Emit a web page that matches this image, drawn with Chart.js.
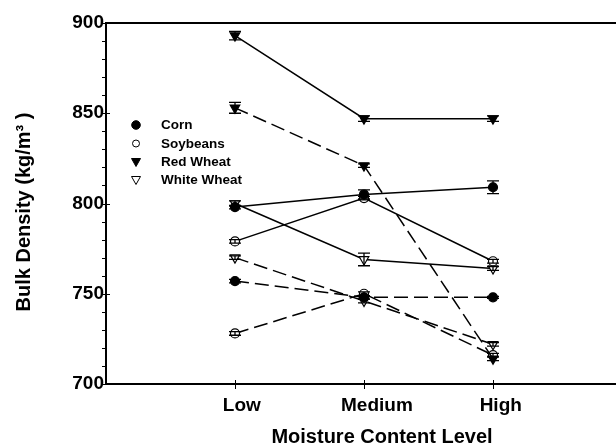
<!DOCTYPE html>
<html>
<head>
<meta charset="utf-8">
<script src="https://cdn.jsdelivr.net/npm/chart.js@4"></script>
<style>
  html, body { margin: 0; padding: 0; overflow: hidden; background: #fff; }
  #wrap { width: 630px; height: 444px; }
</style>
</head>
<body>
<div id="wrap"><canvas id="myChart" width="630" height="444"></canvas></div>
<script>
// moisture levels on the x axis (1, 2, 3)
var levels = ['Low', 'Medium', 'High'];
var levelLabelPos = [1.053, 2.1, 3.06];
var crops = ['Corn', 'Soybeans', 'Red Wheat', 'White Wheat'];

// solid lines
var cornSolid = [798, 805, 809];
var soySolid = [779, 803, 768];
var redSolid = [893, 847, 847];
var whiteSolid = [800, 769, 764];
// dashed lines
var cornDash = [757, 748, 748];
var soyDash = [728, 750, 716];
var redDash = [853, 821, 714];
var whiteDash = [770, 746, 722];

// error bar half widths
var cornSolidErr = [1, 2.5, 3.5];
var soySolidErr = [1, 1, 1];
var redSolidErr = [2.3, 1.5, 1.5];
var whiteSolidErr = [1.5, 3.5, 1];
var cornDashErr = [1, 1, 0.5];
var soyDashErr = [1, 1, 1];
var redDashErr = [3, 1, 1];
var whiteDashErr = [1, 1, 1];

var yTicks = [700, 750, 800, 850, 900];

var xTitle = 'Moisture Content Level';
var yTitle = 'Bulk Density (kg/m\u00B3 )';

function pts(arr) {
  return arr.map(function (v, i) { return { x: i + 1, y: v }; });
}

function ds(vals, errs, crop, dashed) {
  var filled = (crop === 'Corn' || crop === 'Red Wheat');
  var tri = (crop === 'Red Wheat' || crop === 'White Wheat');
  return {
    data: pts(vals),
    errors: errs,
    crop: crop,
    borderColor: '#000',
    borderWidth: 1.5,
    borderDash: dashed ? [14, 6] : [],
    fill: false,
    tension: 0,
    pointStyle: tri ? 'triangle' : 'circle',
    pointRotation: tri ? 180 : 0,
    pointRadius: tri ? 5.5 : 4.5,
    pointBorderWidth: 1.2,
    pointBackgroundColor: filled ? '#000' : '#fff',
    pointBorderColor: '#000'
  };
}

var font = "'Liberation Sans', Arial, sans-serif";

var extras = {
  id: 'extras',
  afterDatasetsDraw: function (chart) {
    var c = chart.ctx, a = chart.chartArea;
    var xs = chart.scales.x, ys = chart.scales.y;
    c.save();
    c.strokeStyle = '#000';
    // top border
    c.lineWidth = 2;
    c.beginPath();
    c.moveTo(a.left, a.top);
    c.lineTo(a.right, a.top);
    c.stroke();
    // y ticks
    c.lineWidth = 1;
    for (var v = 700; v <= 900; v += 10) {
      var y = Math.round(ys.getPixelForValue(v)) + 0.5;
      c.beginPath();
      if (v % 50 === 0) {
        c.moveTo(a.left - 5, y); c.lineTo(a.left + 4, y);
      } else {
        c.moveTo(a.left - 4, y); c.lineTo(a.left, y);
      }
      c.stroke();
    }
    // x ticks
    for (var i = 1; i <= 3; i++) {
      var x = Math.round(xs.getPixelForValue(i)) + 0.5;
      c.beginPath();
      c.moveTo(x, a.bottom - 4); c.lineTo(x, a.bottom + 5);
      c.stroke();
    }
    // error bars
    c.lineWidth = 1.3;
    chart.data.datasets.forEach(function (d) {
      d.data.forEach(function (p, j) {
        var e = d.errors[j];
        if (!e) return;
        var px = xs.getPixelForValue(p.x);
        var t = ys.getPixelForValue(p.y + e), b = ys.getPixelForValue(p.y - e);
        c.beginPath();
        c.moveTo(px, t); c.lineTo(px, b);
        c.moveTo(px - 6, t); c.lineTo(px + 6, t);
        c.moveTo(px - 6, b); c.lineTo(px + 6, b);
        c.stroke();
      });
    });
    // legend
    var ly = [125, 143.5, 162, 180];
    c.font = 'bold 13.5px ' + font;
    c.textBaseline = 'middle';
    c.fillStyle = '#000';
    crops.forEach(function (name, k) {
      var mx = 136, my = ly[k];
      var filled = (k === 0 || k === 2);
      c.beginPath();
      if (k === 0) {
        c.arc(mx, my, 4.3, 0, Math.PI * 2);
      } else if (k === 1) {
        c.arc(mx, my, 3.5, 0, Math.PI * 2);
      } else {
        c.moveTo(mx - 4.5, my - 3.5);
        c.lineTo(mx + 4.5, my - 3.5);
        c.lineTo(mx, my + 4.5);
        c.closePath();
      }
      c.fillStyle = filled ? '#000' : '#fff';
      c.fill();
      c.lineWidth = 1;
      c.stroke();
      c.fillStyle = '#000';
      c.fillText(name, 161, my + 0.5);
    });
    // axis titles
    c.font = 'bold 20px ' + font;
    c.textAlign = 'center';
    c.textBaseline = 'alphabetic';
    c.fillText(xTitle, 382, 443);
    c.translate(30, 212);
    c.rotate(-Math.PI / 2);
    c.fillText(yTitle, 0, 0);
    c.restore();
  }
};

new Chart(document.getElementById('myChart').getContext('2d'), {
  type: 'line',
  data: {
    datasets: [
      ds(redSolid, redSolidErr, 'Red Wheat', false),
      ds(cornSolid, cornSolidErr, 'Corn', false),
      ds(soySolid, soySolidErr, 'Soybeans', false),
      ds(whiteSolid, whiteSolidErr, 'White Wheat', false),
      ds(redDash, redDashErr, 'Red Wheat', true),
      ds(cornDash, cornDashErr, 'Corn', true),
      ds(soyDash, soyDashErr, 'Soybeans', true),
      ds(whiteDash, whiteDashErr, 'White Wheat', true)
    ]
  },
  options: {
    responsive: false,
    animation: false,
    layout: { padding: { left: 4, top: 23, right: 8, bottom: 0 } },
    plugins: { legend: { display: false }, tooltip: { enabled: false } },
    scales: {
      x: {
        type: 'linear',
        min: 0,
        max: 4,
        afterFit: function (s) { s.height = 60; },
        afterBuildTicks: function (s) {
          s.ticks = levelLabelPos.map(function (p) { return { value: p }; });
        },
        grid: { display: false, drawTicks: false },
        border: { display: true, color: '#000', width: 2 },
        ticks: {
          color: '#000',
          padding: 10,
          maxRotation: 0,
          font: { family: font, size: 19, weight: 'bold' },
          callback: function (v) { return levels[Math.round(v) - 1] || ''; }
        }
      },
      y: {
        min: 700,
        max: 900,
        afterFit: function (s) { s.width = 102; },
        afterBuildTicks: function (s) {
          s.ticks = yTicks.map(function (v) { return { value: v }; });
        },
        grid: { display: false, drawTicks: false },
        border: { display: true, color: '#000', width: 2 },
        ticks: {
          color: '#000',
          padding: 2,
          font: { family: font, size: 19, weight: 'bold' }
        }
      }
    }
  },
  plugins: [extras]
});
</script>
</body>
</html>
